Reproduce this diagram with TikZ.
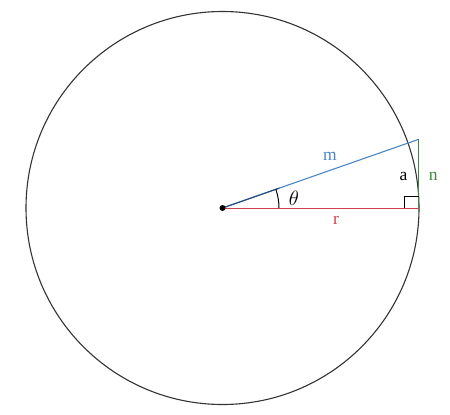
\documentclass[tikz,border=0pt]{standalone}
\usepackage{fontspec}
\setmainfont{Liberation Serif}
\usetikzlibrary{calc}
\definecolor{cblue}{HTML}{4A86C8}
\definecolor{cdblue}{HTML}{2A4A78}
\definecolor{cred}{HTML}{D0404E}
\definecolor{cgreen}{HTML}{3A8A3A}
\definecolor{cgray}{HTML}{333333}
\begin{document}
\begin{tikzpicture}[x=1pt,y=-1pt,
  lbl/.style={inner sep=0pt,font=\fontsize{17.5}{20}\selectfont}]
\useasboundingbox (0,0) rectangle (450,415);
\coordinate (O) at (222.5,208);
\coordinate (P) at (418.7,208);
\coordinate (T) at (418.7,139.3);
\draw[cgray,line width=1.1pt] (O) circle (196.5);
\draw[cred,line width=1pt] (O) -- (P);
\draw[cblue,line width=1.1pt] (O) -- (T);
\draw[cdblue,line width=1.1pt] (O) -- ($(O)!0.29!(T)$);
\draw[cgreen,line width=1.1pt] (P) -- (T);
\draw[black,line width=1pt] ($(P)+(-14,0)$) -- ++(0,-11.5) -- ++(14,0);
\draw[black,line width=1pt] ($(O)+(56.5,0)$) arc[start angle=0,end angle=-19.3,radius=56.5];
\fill[black] (O) circle (3);
\node[lbl,text=cblue] (m) at (330,156) {m};
\node[lbl] (a) at (403.5,176) {a};
\node[lbl,text=cgreen] (n) at (433.3,176) {n};
\node[lbl,font=\fontsize{20}{22}\selectfont] (th) at (294,198) {$\theta$};
\node[lbl,text=cred] (r) at (336,220) {r};
\end{tikzpicture}
\end{document}
